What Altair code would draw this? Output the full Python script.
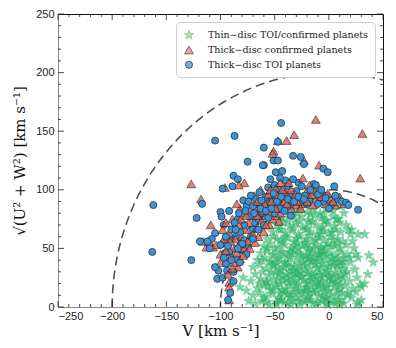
import altair as alt
import pandas as pd
import numpy as np

# ---- data ----
thin_disc = [
    (-68,3),(-62,5),(-55,2),(-49,4),(-44,6),(-38,3),(-33,5),(-27,2),(-22,4),(-17,6),(-12,3),(-6,5),(-1,2),(4,4),(9,6),(14,3),(21,8),(27,4),
    (-70,10),(-64,12),(-58,9),(-52,11),(-46,8),(-41,12),(-35,10),(-30,8),(-24,11),(-19,9),(-14,12),(-9,10),(-3,8),(2,11),(7,9),(12,12),(17,10),(25,13),(30,17),
    (-66,16),(-60,18),(-54,15),(-48,17),(-43,14),(-37,18),(-31,16),(-26,14),(-21,17),(-15,15),(-10,18),(-5,16),(0,14),(5,17),(10,15),(15,18),(22,16),(29,19),
    (-72,22),(-63,24),(-57,21),(-51,23),(-45,20),(-39,24),(-34,22),(-28,20),(-23,23),(-18,21),(-12,24),(-7,22),(-2,20),(3,23),(8,21),(13,24),(19,22),(26,25),
    (-68,28),(-61,30),(-55,27),(-49,29),(-42,26),(-36,30),(-31,28),(-25,26),(-20,29),(-14,27),(-9,30),(-4,28),(1,26),(6,29),(11,27),(17,30),(24,32),
    (-70,34),(-64,36),(-58,33),(-52,35),(-46,32),(-40,36),(-35,34),(-29,32),(-23,35),(-18,33),(-13,36),(-7,34),(-2,32),(4,35),(9,33),(14,36),(20,38),(27,42),
    (-66,40),(-59,42),(-53,39),(-47,41),(-41,38),(-36,42),(-30,40),(-24,38),(-19,41),(-14,39),(-8,42),(-3,40),(2,38),(8,41),(13,39),(19,42),(25,45),(37,44),(41,38),
    (-63,46),(-57,48),(-50,45),(-44,47),(-38,44),(-32,48),(-27,46),(-21,44),(-16,47),(-10,45),(-5,48),(1,46),(6,44),(11,47),(17,45),(23,50),
    (-60,52),(-54,54),(-47,51),(-41,53),(-35,50),(-29,54),(-24,52),(-18,50),(-12,53),(-7,51),(-1,54),(5,52),(10,50),(16,53),(22,56),
    (-57,58),(-51,60),(-44,57),(-38,59),(-32,56),(-27,60),(-21,58),(-15,56),(-9,59),(-4,57),(2,60),(8,58),(13,56),(20,62),(27,62),(33,62),
    (-52,64),(-46,66),(-40,63),(-34,65),(-28,62),(-22,66),(-17,64),(-11,62),(-5,65),(0,63),(6,66),(11,64),(18,66),(21,66),
    (-48,70),(-42,72),(-36,69),(-30,71),(-24,68),(-18,72),(-12,70),(-6,68),(-1,71),(5,69),(10,72),(16,70),
    (-43,76),(-37,78),(-31,75),(-25,77),(-19,74),(-13,78),(-7,76),(-2,74),(4,77),(9,75),(14,80),
    (-33,82),(-26,84),(-20,81),(-14,83),(-8,80),(-2,84),(4,82),(10,86),
    (-79,25),(-82,17),(-74,5),(-76,14),(30,6),(26,2),(33,20),(36,28),
    (-45,6),(-36,8),(-28,5),(-19,7),(-10,4),(-2,7),(6,3),(12,6),(-40,15),(-33,13),(-22,14),(-13,19),(-4,13),(6,20),
    (-47,24),(-37,21),(-26,25),(-16,23),(-8,19),(0,25),(9,25),(-44,31),(-33,31),(-22,31),(-11,33),(-1,30),(8,36),
    (-38,38),(-27,36),(-16,39),(-6,37),(5,39),(-33,45),(-24,42),(-13,43),(-2,44),(-28,50),(-19,48),(-8,49),
    (-22,55),(-12,57),(-30,18),(-18,12),(-8,27),(-27,30),(-15,28),(-35,26),(-5,46),(2,52),(-42,46),(-50,36),
    (-56,18),(-60,8),(-3,3),(15,28),(18,12),
    (-48,2),(-41,4),(-35,2),(-24,6),(-15,3),(-6,9),(1,6),(10,2),(-52,14),(-45,12),(-38,11),(-28,12),(-20,16),
    (-11,14),(-2,17),(8,13),(-58,22),(-49,19),(-42,22),(-31,23),(-21,20),(-10,21),(2,21),(11,19),(-53,30),
    (-46,28),(-39,28),(-29,28),(-18,26),(-6,25),(4,27),(13,32),(-55,38),(-48,37),(-41,34),(-32,35),(-20,37),
    (-10,39),(0,35),(10,38),(-52,44),(-45,42),(-36,47),(-26,44),(-18,43),(-8,45),(3,42),(14,42),(-50,50),
    (-43,55),(-32,52),(-21,53),(-14,50),(-3,51),(8,54),(-48,58),(-40,60),(-30,58),(-18,61),(-7,62),(4,57),
    (-44,66),(-33,67),(-20,67),(-8,66),(3,64),(-38,73),(-27,73),(-15,73),(-4,73),(7,75),(-29,80),(-17,79),
    (-5,79),(-58,4),(-64,20),(-62,40),(-57,50),
]

thick_toi = [
    (-162,87),(-163,47),(-127,40),(-122,76),(-105,142),(-87,146),(-44,157),(-60,136),(-75,124),(-60,121),
    (-33,129),(-23,122),(-5,118),(-1,115),(5,103),(27,83),(-14,105),(-49,115),(-47,141),(-51,125),(-47,125),
    (-26,128),(-88,112),(-84,109),(-61,121),
    (-119,56),(-117,88),(-105,63),(-98,54),(-102,31),(-103,24),(-98,25),(-95,37),(-92,47),(-85,41),(-100,81),
    (-99,77),(-92,82),(-98,101),(-89,103),(-97,70),(-105,34),(-94,31),(-88,22),(-96,46),(-90,58),(-86,60),
    (-82,64),(-78,57),(-80,48),(-75,52),(-72,60),(-70,66),(-84,75),(-78,70),(-73,77),(-68,72),(-65,75),
    (-62,80),(-66,88),(-72,95),(-67,92),(-64,98),(-58,94),(-60,86),(-55,88),(-52,92),(-56,102),(-50,104),
    (-46,100),(-42,97),(-40,108),(-45,110),(-38,103),(-35,96),(-30,99),(-28,106),(-25,103),(-22,95),(-18,91),
    (-15,98),(-12,104),(-8,92),(-5,90),(-2,95),(3,88),(8,92),(12,90),(16,89),(18,87),(-38,86),(-45,84),
    (-50,80),(-56,76),(-60,70),(-65,66),(-70,58),(-76,45),(-82,38),(-88,30),(-91,12),(-93,6),(-100,53),
    (-110,50),(-108,58),(-112,56),(-79,91),(-76,86),(-54,109),(-33,109),(-43,116),(-20,88),(-27,90),(-10,88),
    (0,84),(-35,78),(-41,82),
    (-95,60),(-90,66),(-87,72),(-83,80),(-77,82),(-74,90),(-70,86),(-63,84),(-58,82),(-53,84),(-48,90),
    (-44,94),(-38,92),(-32,90),(-28,94),(-23,92),(-17,100),(-10,96),(-7,100),(-3,93),(6,95),(-80,54),
    (-84,50),(-90,40),(-97,42),(-93,52),(-86,66),(-69,80),(-62,91),(-51,97),
]

thick_confirmed = [
    (-12,160),(31,148),(-32,147),(-39,142),(-47,142),(-127,105),(29,110),(-9,121),(-51,133),(-23,125),
    (-118,92),(-78,106),(-92,21),(-92,17),(-92,6),(-113,51),(-107,51),(-111,56),(-116,56),(-109,70),
    (-100,38),(-84,34),(-82,41),(-96,102),(-83,104),(-52,131),
    (-90,44),(-87,50),(-95,55),(-80,60),(-77,66),(-74,72),(-71,78),(-68,82),(-80,80),(-82,84),(-85,88),
    (-73,88),(-69,95),(-63,100),(-60,92),(-57,84),(-54,80),(-50,88),(-47,92),(-44,86),(-41,90),(-38,95),
    (-36,88),(-33,92),(-30,87),(-27,95),(-24,88),(-21,98),(-18,94),(-15,87),(-12,92),(-9,100),(-6,98),
    (-3,88),(2,92),(6,87),(10,94),(14,88),(-62,74),(-66,68),(-70,62),(-75,56),(-78,50),(-85,46),(-88,38),
    (-65,60),(-60,64),(-55,70),(-52,75),(-48,78),(-45,80),(-42,84),(-58,78),(-83,70),(-86,58),(-92,63),
    (-73,50),(-68,55),(-63,88),(-56,96),(-49,101),(-45,106),(-40,98),(-35,84),(-26,84),(-46,73),(-93,28),
    (-88,68),(-95,72),(-98,66),(-104,53),(-100,45),(-35,100),(-24,110),(-13,99),
    (-97,58),(-91,56),(-89,75),(-81,75),(-76,78),(-72,84),(-66,78),(-61,82),(-59,88),(-53,90),(-49,84),
    (-43,100),(-39,88),(-31,96),(-29,90),(-20,90),(-16,96),(-7,94),(-1,97),(4,90),(-82,54),(-79,44),
    (-89,33),(-95,48),(-66,90),(-54,100),(-48,96),(-37,106),(-18,104),(-58,70),
]

series_names = ["Thin\u2212disc TOI/confirmed planets",
                "Thick\u2212disc confirmed planets",
                "Thick\u2212disc TOI planets"]
circle_radii = [100, 200]
x_ticks = [-250, -200, -150, -100, -50, 0, 50]
y_ticks = [0, 50, 100, 150, 200, 250]

# ---- build tables (thin disc behind; thick-disc series interleaved) ----
rows = []
for v, w in thin_disc:
    rows.append({"V": v, "UW": w, "series": series_names[0]})
n = max(len(thick_toi), len(thick_confirmed))
for k in range(n):
    if k < len(thick_toi):
        v, w = thick_toi[k]
        rows.append({"V": v, "UW": w, "series": series_names[2]})
    if k < len(thick_confirmed):
        v, w = thick_confirmed[k]
        rows.append({"V": v, "UW": w, "series": series_names[1]})
pts = pd.DataFrame(rows)

theta = np.linspace(0, np.pi, 181)
circ = pd.concat([pd.DataFrame({"V": r * np.cos(theta), "UW": r * np.sin(theta),
                                "r": r, "i": np.arange(len(theta))}) for r in circle_radii])

W, H = 325, 293
xs = alt.Scale(domain=[-250, 50], nice=False, zero=False)
ys = alt.Scale(domain=[0, 250], nice=False)

base_x = alt.X("V:Q", scale=xs, axis=alt.Axis(values=x_ticks, ticks=False, grid=False,
               title="V [km s\u207b\u00b9]", labelFont="Liberation Sans", labelFontSize=11,
               labelColor="#222", titleFont="DejaVu Serif", titleFontSize=15,
               titleFontWeight="normal", titleColor="#111", labelPadding=3, titlePadding=2))
base_y = alt.Y("UW:Q", scale=ys, axis=alt.Axis(values=y_ticks, ticks=False, grid=False,
               title="\u221a(U\u00b2 + W\u00b2)  [km s\u207b\u00b9]", labelFont="Liberation Sans",
               labelFontSize=11, labelColor="#222", titleFont="DejaVu Serif", titleFontSize=15,
               titleFontWeight="normal", titleColor="#111", labelPadding=4, titlePadding=8))

circles = alt.Chart(circ).mark_line(color="#4a4a4a", strokeWidth=1.5, strokeDash=[9, 5], clip=True).encode(
    x=base_x, y=base_y, detail="r:N", order="i:Q")

star = "M0,-1L0.235,-0.324L0.951,-0.309L0.38,0.124L0.588,0.809L0,0.4L-0.588,0.809L-0.38,0.124L-0.951,-0.309L-0.235,-0.324Z"
points = alt.Chart(pts).mark_point(filled=True, strokeWidth=0.8).encode(
    x=alt.X("V:Q", scale=xs),
    y=alt.Y("UW:Q", scale=ys),
    shape=alt.Shape("series:N", scale=alt.Scale(domain=series_names,
                    range=[star, "triangle-up", "circle"]), legend=alt.Legend(title=None)),
    fill=alt.Fill("series:N", scale=alt.Scale(domain=series_names,
                  range=["#2bb364", "#e3604f", "#3b93d9"]), legend=alt.Legend(title=None)),
    stroke=alt.Stroke("series:N", scale=alt.Scale(domain=series_names,
                      range=["#2bb364", "#222222", "#333333"]), legend=alt.Legend(title=None)),
    opacity=alt.Opacity("series:N", scale=alt.Scale(domain=series_names, range=[0.6, 1.0, 1.0]),
                        legend=alt.Legend(title=None)),
    size=alt.Size("series:N", scale=alt.Scale(domain=series_names, range=[105, 50, 48]),
                  legend=alt.Legend(title=None)),
)

# inward ticks on all four sides
major_x = pd.DataFrame({"t": x_ticks})
minor_x = pd.DataFrame({"t": [t for t in range(-250, 51, 10) if t % 50 != 0]})
major_y = pd.DataFrame({"t": y_ticks})
minor_y = pd.DataFrame({"t": [t for t in range(0, 251, 10) if t % 50 != 0]})

def xticks(df, length):
    b = alt.Chart(df).mark_rule(color="#222", strokeWidth=0.8).encode(
        x=alt.X("t:Q", scale=xs), y=alt.value(H), y2=alt.value(H - length))
    t = alt.Chart(df).mark_rule(color="#222", strokeWidth=0.8).encode(
        x=alt.X("t:Q", scale=xs), y=alt.value(0), y2=alt.value(length))
    return b + t

def yticks(df, length):
    l = alt.Chart(df).mark_rule(color="#222", strokeWidth=0.8).encode(
        y=alt.Y("t:Q", scale=ys), x=alt.value(0), x2=alt.value(length))
    r = alt.Chart(df).mark_rule(color="#222", strokeWidth=0.8).encode(
        y=alt.Y("t:Q", scale=ys), x=alt.value(W), x2=alt.value(W - length))
    return l + r

chart = alt.layer(
    circles, points,
    xticks(major_x, 6), xticks(minor_x, 3), yticks(major_y, 6), yticks(minor_y, 3),
).properties(
    width=W, height=H,
    autosize=alt.AutoSizeParams(type="none"),
    padding={"left": 50, "top": 6, "right": 5, "bottom": 36},
).configure_view(
    stroke="#111", strokeWidth=1
).configure_legend(
    orient="top-right", offset=8, padding=7, fillColor="white", strokeColor="#cfcfcf",
    cornerRadius=4, labelFont="DejaVu Serif", labelFontSize=9.5, labelColor="#222",
    labelOffset=13, labelLimit=300, rowPadding=3, symbolSize=60, symbolStrokeWidth=0.8,
)

chart.save("out.html", embed_options={"renderer": "svg", "actions": False})
